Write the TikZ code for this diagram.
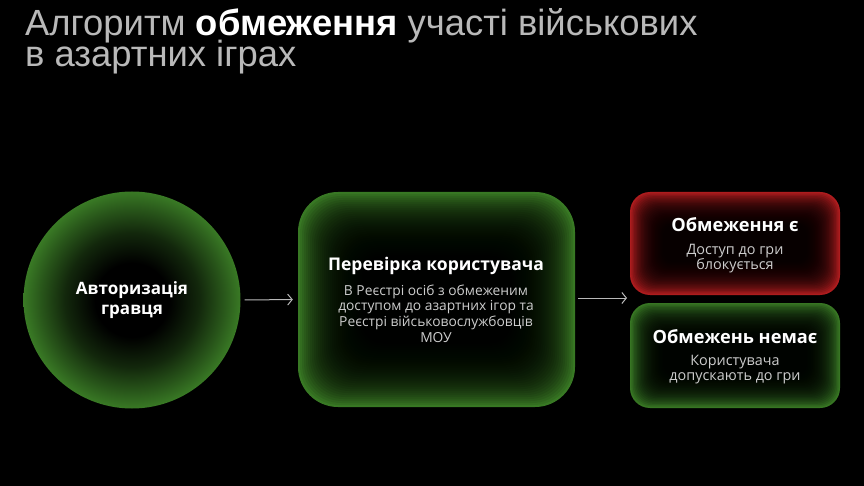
\documentclass[tikz,border=0pt]{standalone}
\usepackage{fontspec}
\usetikzlibrary{arrows.meta}
\setmainfont{Open Sans}
\newfontfamily\titlefont{Liberation Sans}
\definecolor{gg}{RGB}{62,132,40}
\definecolor{rr}{RGB}{195,32,34}
\definecolor{titlegray}{RGB}{185,185,185}
\definecolor{bodygray}{RGB}{205,205,205}
\definecolor{arrowgray}{RGB}{185,185,185}
\pgfdeclareradialshading{cglow}{\pgfpoint{0bp}{0bp}}{color(0bp)=(black); color(8.5bp)=(black); color(15.5bp)=(gg!30!black); color(21bp)=(gg!65!black); color(25bp)=(gg!92!black); color(50bp)=(gg!92!black)}
\tikzset{
  inglow/.style n args={4}{path picture={
    \foreach \i in {0,...,#1}{
      \pgfmathsetmacro\gd{\i*#2}
      \pgfmathsetmacro\gr{max(3,#4-0.3*\gd)}
      \fill[black,fill opacity=#3,rounded corners=\gr pt]
        ([xshift=\gd pt,yshift=\gd pt]path picture bounding box.south west) rectangle
        ([xshift=-\gd pt,yshift=-\gd pt]path picture bounding box.north east);
    }}},
  bigbox/.style={rectangle, rounded corners=40pt, fill=gg, inglow={32}{2}{0.085}{40}},
  smallbox/.style={rectangle, rounded corners=20pt, inglow={24}{1.4}{0.11}{20}},
  heading/.style={text=white, font=\bfseries\fontsize{17}{20}\selectfont, align=center},
  subhead/.style={text=white, font=\bfseries\fontsize{18.2}{20}\selectfont, align=center},
  body/.style={text=bodygray, font=\fontsize{13.8}{15.8}\selectfont, align=center},
  sbody/.style={text=bodygray, font=\fontsize{14.4}{15}\selectfont, align=center},
  titletext/.style={anchor=base west, inner sep=0, text=titlegray, font=\titlefont\fontsize{36.4}{36}\selectfont},
  flow/.style={draw=arrowgray, line width=1pt, -{Straight Barb[length=4.5pt,width=11pt]}},
}
\begin{document}
\begin{tikzpicture}[x=1pt,y=-1pt]
\fill[black] (0,0) rectangle (864,486);
\useasboundingbox (0,0) rectangle (864,486);
% title
\node[titletext, text depth=2pt] (t1) at (25,35.5) {Алгоритм \textcolor{white}{\bfseries обмеження} участі військових};
\node[titletext, text height=22pt] (t2) at (25,66.5) {в азартних іграх};
% shapes
\node[circle, minimum size=217pt, inner sep=0, shading=cglow] (auth) at (132,300) {};
\node[bigbox, minimum width=277pt, minimum height=215pt] (check) at (436.5,299.5) {};
\node[smallbox, fill=rr, minimum width=210pt, minimum height=103pt] (yes) at (735,243.5) {};
\node[smallbox, fill=gg, minimum width=210pt, minimum height=105pt] (no) at (735,355.5) {};
\coordinate (split) at (629,298);
% texts
\node[heading] (authT) at (132,300) {Авторизація\\гравця};
\node[heading, font=\bfseries\fontsize{17.5}{20}\selectfont] (checkH) at (436,266) {Перевірка користувача};
\node[body] (checkB) at (436,313.5) {В Реєстрі осіб з обмеженим\\доступом до азартних ігор та\\Реєстрі військовослужбовців\\МОУ};
\node[subhead] (yesH) at (735,225) {Обмеження є};
\node[sbody] (yesB) at (735,258.5) {Доступ до гри\\блокується};
\node[subhead] (noH) at (735,337) {Обмежень немає};
\node[sbody] (noB) at (735,370) {Користувача\\допускають до гри};
% arrows
\draw[flow, shorten <=4pt, shorten >=5pt] (auth.east) -- (check.west);
\draw[flow, shorten <=3pt, shorten >=2pt] (check.east |- split) -- (split);
\end{tikzpicture}
\end{document}
